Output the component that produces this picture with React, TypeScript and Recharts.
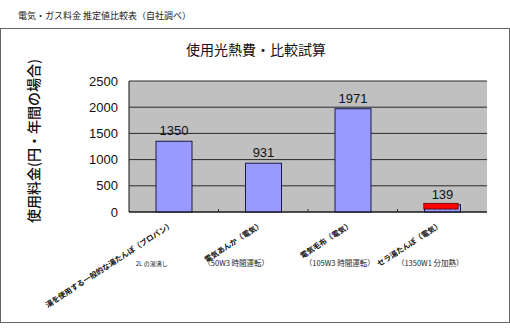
import React from "react";
import {
  Bar,
  BarChart,
  CartesianGrid,
  LabelList,
  XAxis,
  YAxis,
} from "recharts";

const categories = [
  "湯を使用する一般的な湯たんぽ（プロパン）",
  "電気あんか（電気）",
  "電気毛布（電気）",
  "セラ湯たんぽ（電気）",
];
const subLabels = ["2L の湯沸し", "（50W3 時間運転）", "（105W3 時間運転）", "（1350W1 分加熱）"];
const costs = [1350, 931, 1971, 139];
const highlighted = [false, false, false, true];
const yTicks = [0, 500, 1000, 1500, 2000, 2500];

// horizontal nudge of the second (flat) label line, relative to the band centre
const subDx = [-22, -27, -13, -12];

const data = categories.map((name, i) => ({
  name,
  sub: subLabels[i],
  cost: costs[i],
  hi: highlighted[i],
}));

const JP = '"Noto Sans CJK JP", sans-serif';

function CatTick({ x, y, payload, index }: any) {
  const off = payload?.offset ?? 0;
  return (
    <g>
      {index < categories.length - 1 && (
        <line x1={x + off} x2={x + off} y1={y - 3} y2={y} stroke="#333" />
      )}
      <text
        x={x}
        y={y + 14}
        textAnchor="end"
        transform={`rotate(-33, ${x}, ${y + 14})`}
        fontSize={7.5}
        fontWeight={700}
        fontFamily={JP}
        fill="#111"
      >
        {payload.value}
      </text>
      <text
        x={x + subDx[index]}
        y={y + 54}
        textAnchor="middle"
        fontSize={index === 0 ? 6 : 7.5}
        fontFamily={JP}
        fill="#222"
      >
        {subLabels[index]}
      </text>
    </g>
  );
}

function CostBar(props: any) {
  const { x, y, width, height, payload } = props;
  return (
    <g>
      <rect x={x} y={y} width={width} height={height} fill="#9999ff" stroke="#1a1a4a" strokeWidth={1} />
      {payload?.hi && (
        <g>
          <rect x={x - 0.7} y={y - 1.4} width={width - 1.7} height={5.7} fill="#ff0000" stroke="#600" strokeWidth={0.8} />
          <line
            x1={x}
            x2={x + width - 3}
            y1={y + 4.3}
            y2={y + 4.3}
            stroke="#222"
            strokeDasharray="1 4"
          />
        </g>
      )}
    </g>
  );
}

function AxisTitle({ viewBox }: any) {
  const cx = viewBox.x + 4;
  const cy = 141;
  return (
    <text
      x={cx}
      y={cy}
      textAnchor="middle"
      dominantBaseline="central"
      transform={`rotate(-90, ${cx}, ${cy})`}
      fontSize={14}
      fontWeight={500}
      fontFamily={JP}
      fill="#111"
    >
      使用料金(円・年間の場合)
    </text>
  );
}

export default function App() {
  return (
    <div style={{ position: "absolute", left: 0, top: 0, width: 510, height: 328, background: "#fff" }}>
      <div
        style={{
          position: "absolute",
          left: 18,
          top: 9,
          fontSize: 9,
          fontFamily: JP,
          color: "#222",
          whiteSpace: "nowrap",
        }}
      >
        電気・ガス料金 推定値比較表（自社調べ）
      </div>
      <div
        style={{
          position: "absolute",
          left: 0,
          top: 28,
          width: 510,
          height: 295,
          boxSizing: "border-box",
          border: "1px solid #666",
        }}
      />
      <div
        style={{
          position: "absolute",
          left: 0,
          width: 512,
          top: 39,
          textAlign: "center",
          fontSize: 14,
          fontFamily: JP,
          color: "#111",
        }}
      >
        使用光熱費・比較試算
      </div>
      <div style={{ position: "absolute", left: 0, top: 0 }}>
        <BarChart
          width={510}
          height={328}
          data={data}
          margin={{ top: 81, right: 23, left: 29, bottom: 16 }}
          barCategoryGap={0}
        >
          <CartesianGrid vertical={false} fill="#c0c0c0" stroke="#2a2a2a" />
          <XAxis
            dataKey="name"
            height={100}
            interval={0}
            tickSize={0}
            tickMargin={0}
            tickLine={false}
            axisLine={{ stroke: "#111" }}
            tick={<CatTick />}
          />
          <XAxis xAxisId="t" dataKey="name" orientation="top" height={0} tick={false} tickLine={false} axisLine={{ stroke: "#888" }} />
          <YAxis
            domain={[0, 2500]}
            ticks={yTicks}
            width={100}
            tickLine={false}
            tickMargin={5}
            axisLine={{ stroke: "#111" }}
            tick={{ fontSize: 13, fill: "#111", fontFamily: "Liberation Sans, Arial, sans-serif" }}
            label={<AxisTitle />}
          />
          <YAxis yAxisId="r" orientation="right" width={0} tick={false} tickLine={false} axisLine={{ stroke: "#888" }} />
          <Bar dataKey="cost" barSize={36} shape={<CostBar />} isAnimationActive={false}>
            <LabelList
              dataKey="cost"
              position="top"
              offset={6}
              fontSize={13}
              fill="#111"
              fontFamily="Liberation Sans, Arial, sans-serif"
            />
          </Bar>
        </BarChart>
      </div>
    </div>
  );
}
